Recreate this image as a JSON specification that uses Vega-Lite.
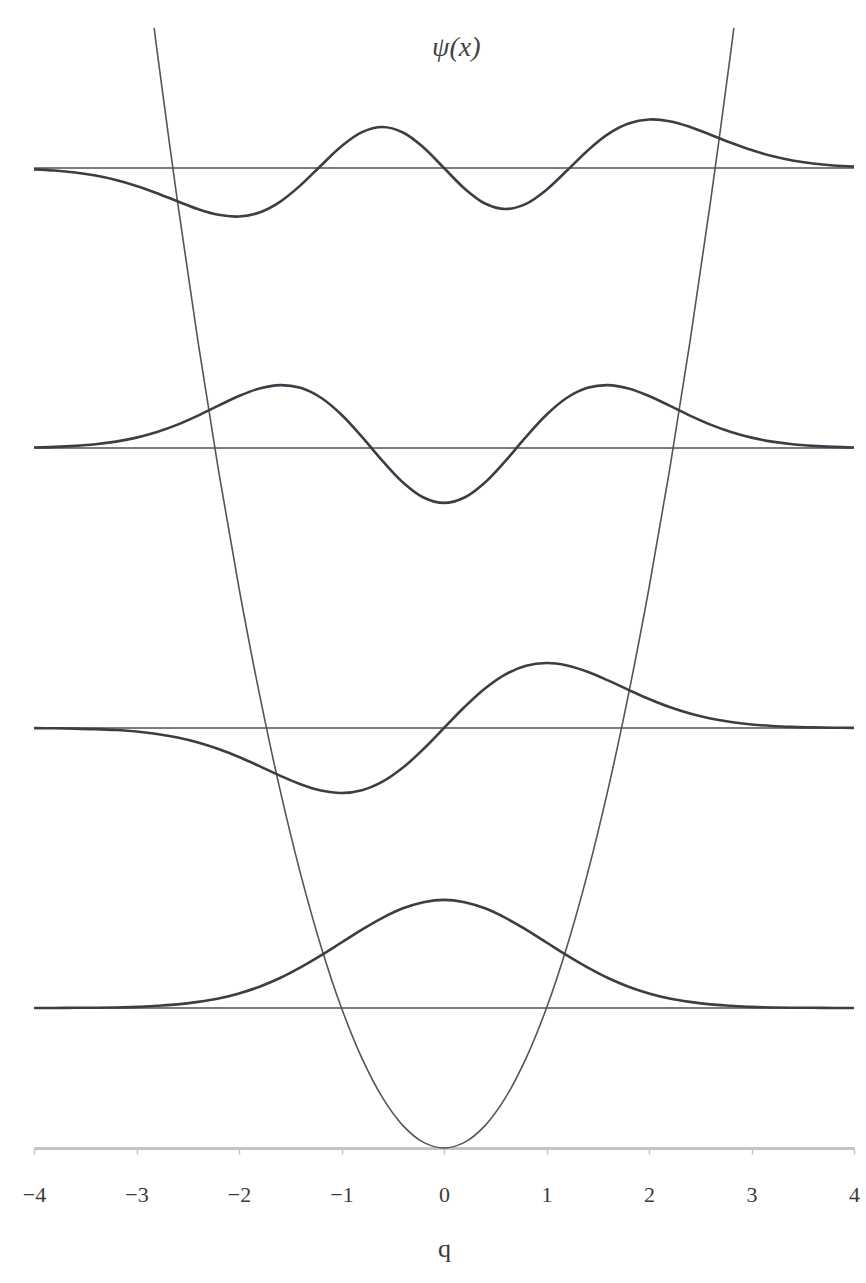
{
  "$schema": "https://vega.github.io/schema/vega-lite/v6.json",
  "width": 820,
  "height": 1148,
  "autosize": {"type": "none"},
  "padding": {"left": 34, "top": 0, "right": 12, "bottom": 135},
  "background": "white",
  "datasets": {
    "levels": [{"n": 0, "e": 0.5}, {"n": 1, "e": 1.5}, {"n": 2, "e": 2.5}, {"n": 3, "e": 3.5}],
    "potential": [
      {"x": -2.828, "v": 4.0}, {"x": -2.8, "v": 3.92}, {"x": -2.6, "v": 3.38}, {"x": -2.4, "v": 2.88},
      {"x": -2.2, "v": 2.42}, {"x": -2.0, "v": 2.0}, {"x": -1.8, "v": 1.62}, {"x": -1.6, "v": 1.28},
      {"x": -1.4, "v": 0.98}, {"x": -1.2, "v": 0.72}, {"x": -1.0, "v": 0.5}, {"x": -0.8, "v": 0.32},
      {"x": -0.6, "v": 0.18}, {"x": -0.4, "v": 0.08}, {"x": -0.2, "v": 0.02}, {"x": 0.0, "v": 0.0},
      {"x": 0.2, "v": 0.02}, {"x": 0.4, "v": 0.08}, {"x": 0.6, "v": 0.18}, {"x": 0.8, "v": 0.32},
      {"x": 1.0, "v": 0.5}, {"x": 1.2, "v": 0.72}, {"x": 1.4, "v": 0.98}, {"x": 1.6, "v": 1.28},
      {"x": 1.8, "v": 1.62}, {"x": 2.0, "v": 2.0}, {"x": 2.2, "v": 2.42}, {"x": 2.4, "v": 2.88},
      {"x": 2.6, "v": 3.38}, {"x": 2.8, "v": 3.92}, {"x": 2.828, "v": 4.0}
    ],
    "waves": [
      {"n": 0, "x": -4.0, "y": 0.5}, {"n": 0, "x": -3.8, "y": 0.5}, {"n": 0, "x": -3.6, "y": 0.501},
      {"n": 0, "x": -3.4, "y": 0.501}, {"n": 0, "x": -3.2, "y": 0.502}, {"n": 0, "x": -3.0, "y": 0.504},
      {"n": 0, "x": -2.8, "y": 0.508}, {"n": 0, "x": -2.6, "y": 0.513}, {"n": 0, "x": -2.4, "y": 0.522},
      {"n": 0, "x": -2.2, "y": 0.534}, {"n": 0, "x": -2.0, "y": 0.552}, {"n": 0, "x": -1.8, "y": 0.576},
      {"n": 0, "x": -1.6, "y": 0.607}, {"n": 0, "x": -1.4, "y": 0.645}, {"n": 0, "x": -1.2, "y": 0.688},
      {"n": 0, "x": -1.0, "y": 0.734}, {"n": 0, "x": -0.8, "y": 0.78}, {"n": 0, "x": -0.6, "y": 0.822},
      {"n": 0, "x": -0.4, "y": 0.856}, {"n": 0, "x": -0.2, "y": 0.878}, {"n": 0, "x": 0.0, "y": 0.886},
      {"n": 0, "x": 0.2, "y": 0.878}, {"n": 0, "x": 0.4, "y": 0.856}, {"n": 0, "x": 0.6, "y": 0.822},
      {"n": 0, "x": 0.8, "y": 0.78}, {"n": 0, "x": 1.0, "y": 0.734}, {"n": 0, "x": 1.2, "y": 0.688},
      {"n": 0, "x": 1.4, "y": 0.645}, {"n": 0, "x": 1.6, "y": 0.607}, {"n": 0, "x": 1.8, "y": 0.576},
      {"n": 0, "x": 2.0, "y": 0.552}, {"n": 0, "x": 2.2, "y": 0.534}, {"n": 0, "x": 2.4, "y": 0.522},
      {"n": 0, "x": 2.6, "y": 0.513}, {"n": 0, "x": 2.8, "y": 0.508}, {"n": 0, "x": 3.0, "y": 0.504},
      {"n": 0, "x": 3.2, "y": 0.502}, {"n": 0, "x": 3.4, "y": 0.501}, {"n": 0, "x": 3.6, "y": 0.501},
      {"n": 0, "x": 3.8, "y": 0.5}, {"n": 0, "x": 4.0, "y": 0.5},

      {"n": 1, "x": -4.0, "y": 1.4995}, {"n": 1, "x": -3.8, "y": 1.4989}, {"n": 1, "x": -3.6, "y": 1.4979},
      {"n": 1, "x": -3.4, "y": 1.496}, {"n": 1, "x": -3.2, "y": 1.4927}, {"n": 1, "x": -3.0, "y": 1.4873},
      {"n": 1, "x": -2.8, "y": 1.4788}, {"n": 1, "x": -2.6, "y": 1.4662}, {"n": 1, "x": -2.4, "y": 1.4485},
      {"n": 1, "x": -2.2, "y": 1.4252}, {"n": 1, "x": -2.0, "y": 1.3965}, {"n": 1, "x": -1.8, "y": 1.3637},
      {"n": 1, "x": -1.6, "y": 1.3299}, {"n": 1, "x": -1.4, "y": 1.299}, {"n": 1, "x": -1.2, "y": 1.2766},
      {"n": 1, "x": -1.0, "y": 1.268}, {"n": 1, "x": -0.8, "y": 1.2778}, {"n": 1, "x": -0.6, "y": 1.3083},
      {"n": 1, "x": -0.4, "y": 1.3588}, {"n": 1, "x": -0.2, "y": 1.425}, {"n": 1, "x": 0.0, "y": 1.5},
      {"n": 1, "x": 0.2, "y": 1.575}, {"n": 1, "x": 0.4, "y": 1.6412}, {"n": 1, "x": 0.6, "y": 1.6917},
      {"n": 1, "x": 0.8, "y": 1.7222}, {"n": 1, "x": 1.0, "y": 1.732}, {"n": 1, "x": 1.2, "y": 1.7234},
      {"n": 1, "x": 1.4, "y": 1.701}, {"n": 1, "x": 1.6, "y": 1.6701}, {"n": 1, "x": 1.8, "y": 1.6363},
      {"n": 1, "x": 2.0, "y": 1.6035}, {"n": 1, "x": 2.2, "y": 1.5748}, {"n": 1, "x": 2.4, "y": 1.5515},
      {"n": 1, "x": 2.6, "y": 1.5338}, {"n": 1, "x": 2.8, "y": 1.5212}, {"n": 1, "x": 3.0, "y": 1.5127},
      {"n": 1, "x": 3.2, "y": 1.5073}, {"n": 1, "x": 3.4, "y": 1.504}, {"n": 1, "x": 3.6, "y": 1.5021},
      {"n": 1, "x": 3.8, "y": 1.5011}, {"n": 1, "x": 4.0, "y": 1.5005},

      {"n": 2, "x": -4.0, "y": 2.502}, {"n": 2, "x": -3.8, "y": 2.504}, {"n": 2, "x": -3.6, "y": 2.5075},
      {"n": 2, "x": -3.4, "y": 2.5134}, {"n": 2, "x": -3.2, "y": 2.5228}, {"n": 2, "x": -3.0, "y": 2.537},
      {"n": 2, "x": -2.8, "y": 2.557}, {"n": 2, "x": -2.6, "y": 2.5834}, {"n": 2, "x": -2.4, "y": 2.6157},
      {"n": 2, "x": -2.2, "y": 2.6513}, {"n": 2, "x": -2.0, "y": 2.6856}, {"n": 2, "x": -1.8, "y": 2.7126},
      {"n": 2, "x": -1.6, "y": 2.7245}, {"n": 2, "x": -1.4, "y": 2.7148}, {"n": 2, "x": -1.2, "y": 2.6794},
      {"n": 2, "x": -1.0, "y": 2.6189}, {"n": 2, "x": -0.8, "y": 2.5398}, {"n": 2, "x": -0.6, "y": 2.4542},
      {"n": 2, "x": -0.4, "y": 2.377}, {"n": 2, "x": -0.2, "y": 2.3233}, {"n": 2, "x": 0.0, "y": 2.304},
      {"n": 2, "x": 0.2, "y": 2.3233}, {"n": 2, "x": 0.4, "y": 2.377}, {"n": 2, "x": 0.6, "y": 2.4542},
      {"n": 2, "x": 0.8, "y": 2.5398}, {"n": 2, "x": 1.0, "y": 2.6189}, {"n": 2, "x": 1.2, "y": 2.6794},
      {"n": 2, "x": 1.4, "y": 2.7148}, {"n": 2, "x": 1.6, "y": 2.7245}, {"n": 2, "x": 1.8, "y": 2.7126},
      {"n": 2, "x": 2.0, "y": 2.6856}, {"n": 2, "x": 2.2, "y": 2.6513}, {"n": 2, "x": 2.4, "y": 2.6157},
      {"n": 2, "x": 2.6, "y": 2.5834}, {"n": 2, "x": 2.8, "y": 2.557}, {"n": 2, "x": 3.0, "y": 2.537},
      {"n": 2, "x": 3.2, "y": 2.5228}, {"n": 2, "x": 3.4, "y": 2.5134}, {"n": 2, "x": 3.6, "y": 2.5075},
      {"n": 2, "x": 3.8, "y": 2.504}, {"n": 2, "x": 4.0, "y": 2.502},

      {"n": 3, "x": -4.0, "y": 3.495}, {"n": 3, "x": -3.8, "y": 3.4908}, {"n": 3, "x": -3.6, "y": 3.4837},
      {"n": 3, "x": -3.4, "y": 3.4729}, {"n": 3, "x": -3.2, "y": 3.4572}, {"n": 3, "x": -3.0, "y": 3.4361},
      {"n": 3, "x": -2.8, "y": 3.41}, {"n": 3, "x": -2.6, "y": 3.381}, {"n": 3, "x": -2.4, "y": 3.3532},
      {"n": 3, "x": -2.2, "y": 3.3328}, {"n": 3, "x": -2.0, "y": 3.3268}, {"n": 3, "x": -1.8, "y": 3.3413},
      {"n": 3, "x": -1.6, "y": 3.3793}, {"n": 3, "x": -1.4, "y": 3.4381}, {"n": 3, "x": -1.2, "y": 3.509},
      {"n": 3, "x": -1.0, "y": 3.5776}, {"n": 3, "x": -0.8, "y": 3.6279}, {"n": 3, "x": -0.6, "y": 3.6463},
      {"n": 3, "x": -0.4, "y": 3.6267}, {"n": 3, "x": -0.2, "y": 3.5733}, {"n": 3, "x": 0.0, "y": 3.5},
      {"n": 3, "x": 0.2, "y": 3.4267}, {"n": 3, "x": 0.4, "y": 3.3733}, {"n": 3, "x": 0.6, "y": 3.3537},
      {"n": 3, "x": 0.8, "y": 3.3721}, {"n": 3, "x": 1.0, "y": 3.4224}, {"n": 3, "x": 1.2, "y": 3.491},
      {"n": 3, "x": 1.4, "y": 3.5619}, {"n": 3, "x": 1.6, "y": 3.6207}, {"n": 3, "x": 1.8, "y": 3.6587},
      {"n": 3, "x": 2.0, "y": 3.6732}, {"n": 3, "x": 2.2, "y": 3.6672}, {"n": 3, "x": 2.4, "y": 3.6468},
      {"n": 3, "x": 2.6, "y": 3.619}, {"n": 3, "x": 2.8, "y": 3.59}, {"n": 3, "x": 3.0, "y": 3.5639},
      {"n": 3, "x": 3.2, "y": 3.5428}, {"n": 3, "x": 3.4, "y": 3.5271}, {"n": 3, "x": 3.6, "y": 3.5163},
      {"n": 3, "x": 3.8, "y": 3.5092}, {"n": 3, "x": 4.0, "y": 3.505}
    ],
    "label": [{"text": "ψ(x)", "x": 0.12, "y": 3.93}]
  },
  "layer": [
    {
      "data": {"name": "levels"},
      "mark": {"type": "rule", "color": "#7d7b78", "strokeWidth": 2},
      "encoding": {
        "y": {"field": "e", "type": "quantitative", "scale": {"domain": [0, 4.1], "nice": false}, "axis": null}
      }
    },
    {
      "data": {"name": "potential"},
      "mark": {"type": "line", "color": "#555555", "strokeWidth": 1.6, "interpolate": "catmull-rom"},
      "encoding": {
        "x": {
          "field": "x",
          "type": "quantitative",
          "title": "q",
          "scale": {"domain": [-4, 4], "nice": false},
          "axis": {"values": [-4, -3, -2, -1, 0, 1, 2, 3, 4], "format": "d"}
        },
        "y": {"field": "v", "type": "quantitative", "axis": null}
      }
    },
    {
      "data": {"name": "waves"},
      "mark": {"type": "line", "color": "#3d3d48", "strokeWidth": 2.6, "interpolate": "catmull-rom"},
      "encoding": {
        "x": {"field": "x", "type": "quantitative", "title": "q"},
        "y": {"field": "y", "type": "quantitative", "axis": null},
        "detail": {"field": "n", "type": "nominal"}
      }
    },
    {
      "data": {"name": "label"},
      "mark": {"type": "text", "font": "Liberation Serif", "fontSize": 28, "fontStyle": "italic", "color": "#444444", "align": "center", "baseline": "middle"},
      "encoding": {
        "x": {"field": "x", "type": "quantitative", "title": "q"},
        "y": {"field": "y", "type": "quantitative", "axis": null},
        "text": {"field": "text"}
      }
    }
  ],
  "config": {
    "view": {"stroke": null},
    "axisX": {
      "grid": false,
      "domainColor": "#c4c4c4",
      "domainWidth": 3,
      "tickColor": "#c4c4c4",
      "tickWidth": 1.5,
      "tickSize": 6,
      "labelFont": "Liberation Serif",
      "labelFontSize": 22,
      "labelColor": "#3a3a3a",
      "labelPadding": 30,
      "labelFlush": false,
      "labelBound": false,
      "titleFont": "Liberation Serif",
      "titleFontSize": 26,
      "titleFontWeight": "normal",
      "titleColor": "#3a3a3a",
      "titlePadding": 30
    }
  }
}
